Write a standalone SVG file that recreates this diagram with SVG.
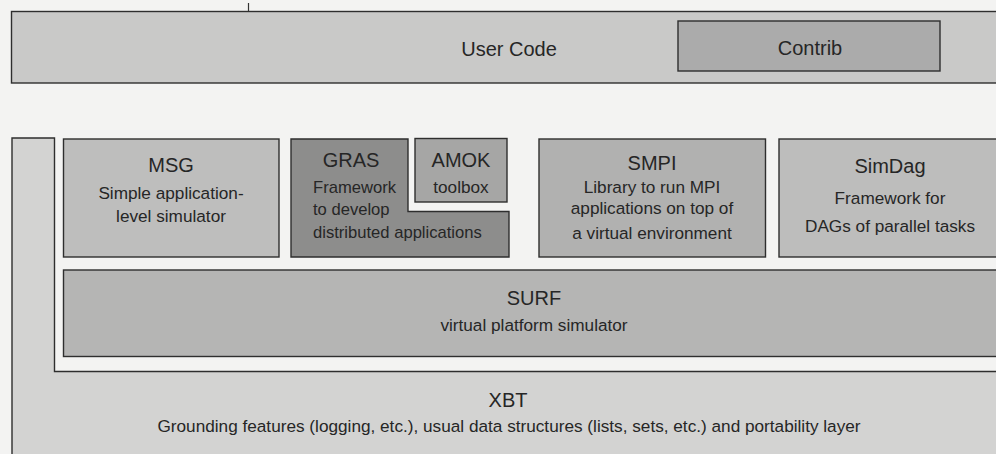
<svg xmlns="http://www.w3.org/2000/svg" width="996" height="454" viewBox="0 0 996 454">
  <style>
    .box { stroke: #2e2e2e; stroke-width: 1.4; }
    .title { font-family: "Liberation Sans", Arial, sans-serif; font-size: 20px; fill: #262626; text-anchor: middle; }
    .sub { font-family: "Liberation Sans", Arial, sans-serif; font-size: 17.2px; fill: #262626; text-anchor: middle; }
    .subl { font-family: "Liberation Sans", Arial, sans-serif; font-size: 16.6px; fill: #262626; }
  </style>
  <rect x="0" y="0" width="996" height="454" fill="#f3f3f2"/>

  <!-- top layer: user code -->
  <g id="usercode">
    <rect class="box" x="11.5" y="11.5" width="1000" height="71.5" fill="#c9c9c8"/>
    <line x1="248.5" y1="3" x2="248.5" y2="11" stroke="#333" stroke-width="1.2"/>
    <text class="title" x="509" y="56">User Code</text>
  </g>
  <g id="contrib">
    <rect class="box" x="678" y="21" width="262" height="50" fill="#ababab"/>
    <text class="title" x="810" y="55">Contrib</text>
  </g>

  <!-- XBT: L-shaped base wrapping the simulation stack -->
  <g id="xbt">
    <path class="box" d="M12,138 H54.5 V371.5 H1010 V470 H12 Z" fill="#d3d3d2"/>
    <text class="title" x="508" y="407">XBT</text>
    <text class="sub" x="509" y="432">Grounding features (logging, etc.), usual data structures (lists, sets, etc.) and portability layer</text>
  </g>

  <g id="msg">
    <rect class="box" x="63.5" y="139" width="215.5" height="118" fill="#bebebd"/>
    <text class="title" x="171" y="172">MSG</text>
    <text class="sub" x="171" y="199">Simple application-</text>
    <text class="sub" x="171" y="222">level simulator</text>
  </g>

  <g id="gras">
    <path class="box" d="M291,139 H408 V211.5 H509 V257 H291 Z" fill="#8d8d8c"/>
    <text class="title" x="351" y="167">GRAS</text>
    <text class="subl" x="313" y="193">Framework</text>
    <text class="subl" x="313" y="215">to develop</text>
    <text class="subl" x="313" y="238">distributed applications</text>
  </g>

  <g id="amok">
    <rect class="box" x="415" y="138.5" width="92" height="63.5" fill="#a6a6a5"/>
    <text class="title" x="461" y="167">AMOK</text>
    <text class="sub" x="461" y="193">toolbox</text>
  </g>

  <g id="smpi">
    <rect class="box" x="539" y="139" width="226.5" height="118" fill="#b1b1b0"/>
    <text class="title" x="652" y="170">SMPI</text>
    <text class="sub" x="652" y="193">Library to run MPI</text>
    <text class="sub" x="652" y="214">applications on top of</text>
    <text class="sub" x="652" y="238.5">a virtual environment</text>
  </g>

  <g id="simdag">
    <rect class="box" x="779" y="139" width="222" height="118" fill="#bdbdbc"/>
    <text class="title" x="890" y="172.5">SimDag</text>
    <text class="sub" x="890" y="204">Framework for</text>
    <text class="sub" x="890" y="231.5">DAGs of parallel tasks</text>
  </g>

  <g id="surf">
    <rect class="box" x="63.5" y="270" width="944" height="86.5" fill="#b5b5b4"/>
    <text class="title" x="534" y="305">SURF</text>
    <text class="sub" x="534" y="331">virtual platform simulator</text>
  </g>

  <g id="connectors"></g>
</svg>
